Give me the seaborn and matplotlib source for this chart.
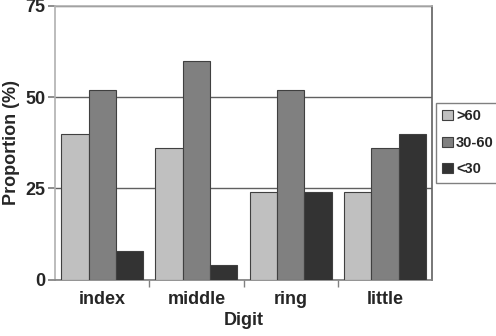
import seaborn as sns
import matplotlib.pyplot as plt
import pandas as pd

# --- Data ---
digits = ['index', 'middle', 'ring', 'little']
groups = ['>60', '30-60', '<30']
over_60 = [40, 36, 24, 24]
mid_30_60 = [52, 60, 52, 36]
under_30 = [8, 4, 24, 40]

df = pd.DataFrame({
    'Digit': digits * 3,
    'Group': [g for g in groups for _ in digits],
    'Proportion': over_60 + mid_30_60 + under_30,
})

sns.set_theme(style="white")
plt.rcParams['font.family'] = ['Liberation Sans', 'DejaVu Sans']
plt.rcParams['font.weight'] = 'bold'

fig = plt.figure(figsize=(4.96, 3.36), dpi=100)
ax = fig.add_axes([0.111, 0.167, 0.760, 0.816])

palette = {'>60': '#c0c0c0', '30-60': '#808080', '<30': '#333333'}
sns.barplot(data=df, x='Digit', y='Proportion', hue='Group', hue_order=groups,
            order=digits, palette=palette, width=0.87, gap=0, saturation=1,
            edgecolor='#404040', linewidth=0.8, ax=ax, zorder=3)

ax.set_ylim(0, 75)
ax.set_yticks([0, 25, 50, 75])
ax.set_xlim(-0.5, 3.5)
ax.yaxis.grid(True, color='#606060', linewidth=1, zorder=0)
ax.set_axisbelow(True)

for side, col in [('left', '#b0b0b0'), ('top', '#b0b0b0'),
                  ('right', '#606060'), ('bottom', '#808080')]:
    ax.spines[side].set_color(col)
    ax.spines[side].set_linewidth(1.2)

# category boundary ticks on x-axis
ax.set_xticks([0, 1, 2, 3])
ax.set_xticks([0.5, 1.5, 2.5], minor=True)
ax.tick_params(axis='x', which='major', length=0, labelsize=13, pad=8)
ax.tick_params(axis='x', which='minor', length=5, color='#808080', direction='out', bottom=True)
ax.tick_params(axis='y', length=5, color='#808080', labelsize=13, left=True, pad=2)
for lbl in ax.get_xticklabels() + ax.get_yticklabels():
    lbl.set_fontweight('bold')

ax.set_xlabel('Digit', fontsize=13, fontweight='bold', labelpad=3)
ax.set_ylabel('Proportion (%)', fontsize=13, fontweight='bold', labelpad=4)

leg = ax.legend(loc='center left', bbox_to_anchor=(1.01, 0.5), frameon=True,
                fancybox=False, edgecolor='#606060', fontsize=10.5,
                handlelength=0.7, handleheight=0.7, handletextpad=0.25,
                labelspacing=0.85, borderpad=0.45, borderaxespad=0)
leg.get_frame().set_linewidth(1)
for t in leg.get_texts():
    t.set_fontweight('bold')

fig.savefig('out.png', dpi=100)
